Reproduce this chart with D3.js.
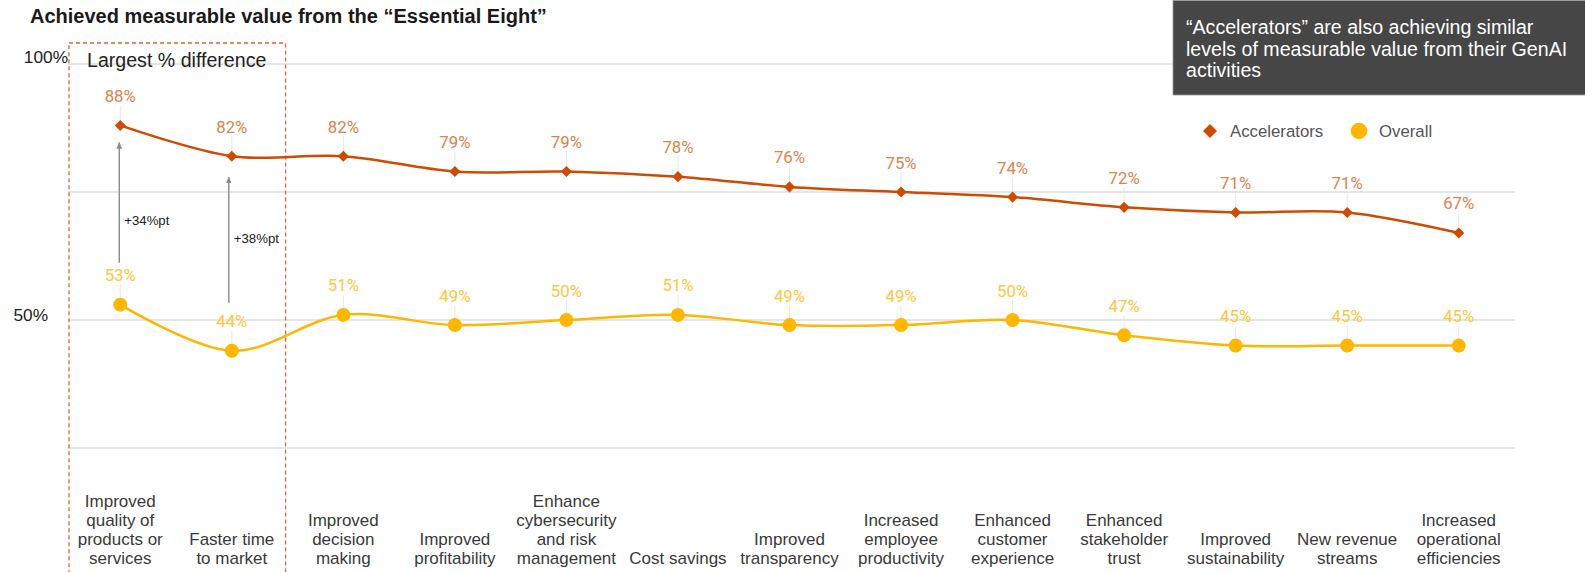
<!DOCTYPE html>
<html>
<head>
<meta charset="utf-8">
<script src="https://cdn.jsdelivr.net/npm/d3@7"></script>
<style>
  html, body { margin: 0; padding: 0; background: #fff; }
  svg { display: block; }
</style>
</head>
<body>
<svg id="chart" width="1585" height="572"></svg>
<script>
// ---------------- data ----------------
const categories = [
  "Improved|quality of|products or|services",
  "Faster time|to market",
  "Improved|decision|making",
  "Improved|profitability",
  "Enhance|cybersecurity|and risk|management",
  "Cost savings",
  "Improved|transparency",
  "Increased|employee|productivity",
  "Enhanced|customer|experience",
  "Enhanced|stakeholder|trust",
  "Improved|sustainability",
  "New revenue|streams",
  "Increased|operational|efficiencies"
];
const accelerators = [88, 82, 82, 79, 79, 78, 76, 75, 74, 72, 71, 71, 67];
const overall      = [53, 44, 51, 49, 50, 51, 49, 49, 50, 47, 45, 45, 45];
const gridValues = [100, 75, 50, 25];
const tickValues = [100, 50];
const tickLabels = ["100%", "50%"];
const seriesNames = ["Accelerators", "Overall"];
const diffLabels = ["+34%pt", "+38%pt"];
const diffLabelLevels = [69.5, 66];
const titleText = "Achieved measurable value from the \u201CEssential Eight\u201D";
const boxTitle = "Largest % difference";
const calloutLines = [
  "\u201CAccelerators\u201D are also achieving similar",
  "levels of measurable value from their GenAI",
  "activities"
];

// ---------------- setup ----------------
const svg = d3.select("#chart");
const ACC = "#d04a02", ACC_LBL = "#e0814e";
const OV = "#ffb600", OV_LBL = "#ffc53d";
const ARIAL = "'Liberation Sans', Arial, sans-serif";
const ROBOTO = "Roboto, 'Liberation Sans', sans-serif";

const x = d3.scalePoint().domain(d3.range(categories.length)).range([64.5, 1514.5]).padding(0.5);
const y = d3.scaleLinear().domain([0, 100]).range([576, 64]);

// title
svg.append("text").attr("x", 30).attr("y", 23)
  .attr("font-family", ARIAL).attr("font-weight", "bold").attr("font-size", 20)
  .attr("fill", "#1a1a1a").text(titleText);

// gridlines
svg.append("g").selectAll("line").data(gridValues).join("line")
  .attr("x1", 68).attr("x2", 1515)
  .attr("y1", d => y(d)).attr("y2", d => y(d))
  .attr("stroke", "#dedede").attr("stroke-width", 1.6);

// y tick labels
const tickRight = {100: 68, 50: 48};
const tickDy = {100: -1.5, 50: 1};
svg.append("g").selectAll("text").data(tickValues).join("text")
  .attr("x", d => tickRight[d]).attr("y", d => y(d) + tickDy[d])
  .attr("text-anchor", "end")
  .attr("font-family", ARIAL).attr("font-size", 17.3).attr("fill", "#222")
  .text((d, i) => tickLabels[i]);

// dashed "largest difference" box
const bx0 = x(0) - x.step() / 2 + 4.5, bx1 = x(1) + x.step() / 2 - 2;
svg.append("rect").attr("x", bx0).attr("y", 43).attr("width", bx1 - bx0).attr("height", 560)
  .attr("fill", "none").attr("stroke", "#e0662e").attr("stroke-width", 1.3)
  .attr("stroke-dasharray", "4,3");
svg.append("text").attr("x", 87).attr("y", 67)
  .attr("font-family", ARIAL).attr("font-size", 19.6).attr("fill", "#222").text(boxTitle);

// leader lines
const leaders = svg.append("g");
[accelerators, overall].forEach(vals => {
  leaders.selectAll(null).data(vals).join("line")
    .attr("x1", (d, i) => x(i)).attr("x2", (d, i) => x(i))
    .attr("y1", d => y(d) - 20).attr("y2", d => y(d))
    .attr("stroke", "#e8e8e8").attr("stroke-width", 1);
});

// arrows
const defs = svg.append("defs");
defs.append("marker").attr("id", "ah").attr("viewBox", "0 0 10 10")
  .attr("refX", 9).attr("refY", 5).attr("markerWidth", 7).attr("markerHeight", 7)
  .attr("markerUnits", "userSpaceOnUse").attr("orient", "auto")
  .append("path").attr("d", "M0,1 L10,5 L0,9 Z").attr("fill", "#8a8a8a");
const arrowIdx = [0, 1];
const arrowDx = [-1, -3];
const arrowStartOff = [42, 48];
const arrowTipOff = [17, 21];
svg.append("g").selectAll("line").data(arrowIdx).join("line")
  .attr("x1", (d, k) => x(d) + arrowDx[k]).attr("x2", (d, k) => x(d) + arrowDx[k])
  .attr("y1", (d, k) => y(overall[d]) - arrowStartOff[k])
  .attr("y2", (d, k) => y(accelerators[d]) + arrowTipOff[k])
  .attr("stroke", "#8a8a8a").attr("stroke-width", 1.4)
  .attr("marker-end", "url(#ah)");
svg.append("g").selectAll("text").data(arrowIdx).join("text")
  .attr("x", (d, k) => x(d) + arrowDx[k] + 5)
  .attr("y", (d, k) => y(diffLabelLevels[k]) + 4.5)
  .attr("font-family", ARIAL).attr("font-size", 13.2).attr("fill", "#222")
  .text((d, k) => diffLabels[k]);

// lines
const line = d3.line().x((d, i) => x(i)).y(d => y(d)).curve(d3.curveCatmullRom.alpha(0));
svg.append("path").datum(accelerators).attr("d", line)
  .attr("fill", "none").attr("stroke", ACC).attr("stroke-width", 2.5);
svg.append("path").datum(overall).attr("d", line)
  .attr("fill", "none").attr("stroke", OV).attr("stroke-width", 2.5);

// markers
const diamond = d3.symbol().type(d3.symbolDiamond2).size(78);
svg.append("g").selectAll("path").data(accelerators).join("path")
  .attr("d", diamond)
  .attr("transform", (d, i) => `translate(${x(i)},${y(d)})`)
  .attr("fill", ACC);
svg.append("g").selectAll("circle").data(overall).join("circle")
  .attr("cx", (d, i) => x(i)).attr("cy", d => y(d)).attr("r", 7)
  .attr("fill", OV);

// value labels
svg.append("g").selectAll("text").data(accelerators).join("text")
  .attr("x", (d, i) => x(i)).attr("y", d => y(d) - 23.5)
  .attr("text-anchor", "middle").attr("font-family", ROBOTO).attr("font-size", 16.8)
  .attr("fill", ACC_LBL).text(d => d + "%");
svg.append("g").selectAll("text").data(overall).join("text")
  .attr("x", (d, i) => x(i)).attr("y", d => y(d) - 23.5)
  .attr("text-anchor", "middle").attr("font-family", ROBOTO).attr("font-size", 16.8)
  .attr("fill", OV_LBL).text(d => d + "%");

// category labels (bottom aligned)
const catG = svg.append("g");
categories.forEach((c, i) => {
  const lines = c.split("|");
  const t = catG.append("text").attr("text-anchor", "middle")
    .attr("font-family", ARIAL).attr("font-size", 17).attr("fill", "#3a3a3a");
  lines.forEach((ln, k) => {
    t.append("tspan").attr("x", x(i))
      .attr("y", 564 - (lines.length - 1 - k) * 19).text(ln);
  });
});

// legend
const lg = svg.append("g");
lg.append("path").attr("d", d3.symbol().type(d3.symbolDiamond2).size(125))
  .attr("transform", "translate(1210,131)").attr("fill", ACC);
lg.append("text").attr("x", 1230).attr("y", 137)
  .attr("font-family", ARIAL).attr("font-size", 16.8).attr("fill", "#555").text(seriesNames[0]);
lg.append("circle").attr("cx", 1359).attr("cy", 131).attr("r", 8.3).attr("fill", OV);
lg.append("text").attr("x", 1379).attr("y", 137)
  .attr("font-family", ARIAL).attr("font-size", 16.8).attr("fill", "#555").text(seriesNames[1]);

// callout box
svg.append("rect").attr("x", 1173).attr("y", 0.5).attr("width", 420).attr("height", 94.5)
  .attr("fill", "#464646").attr("stroke", "#9a9a9a").attr("stroke-width", 0.8);
svg.append("g").selectAll("text").data(calloutLines).join("text")
  .attr("x", 1186).attr("y", (d, i) => 34 + i * 21.5)
  .attr("font-family", ARIAL).attr("font-size", 19.6).attr("fill", "#ffffff")
  .text(d => d);
</script>
</body>
</html>
